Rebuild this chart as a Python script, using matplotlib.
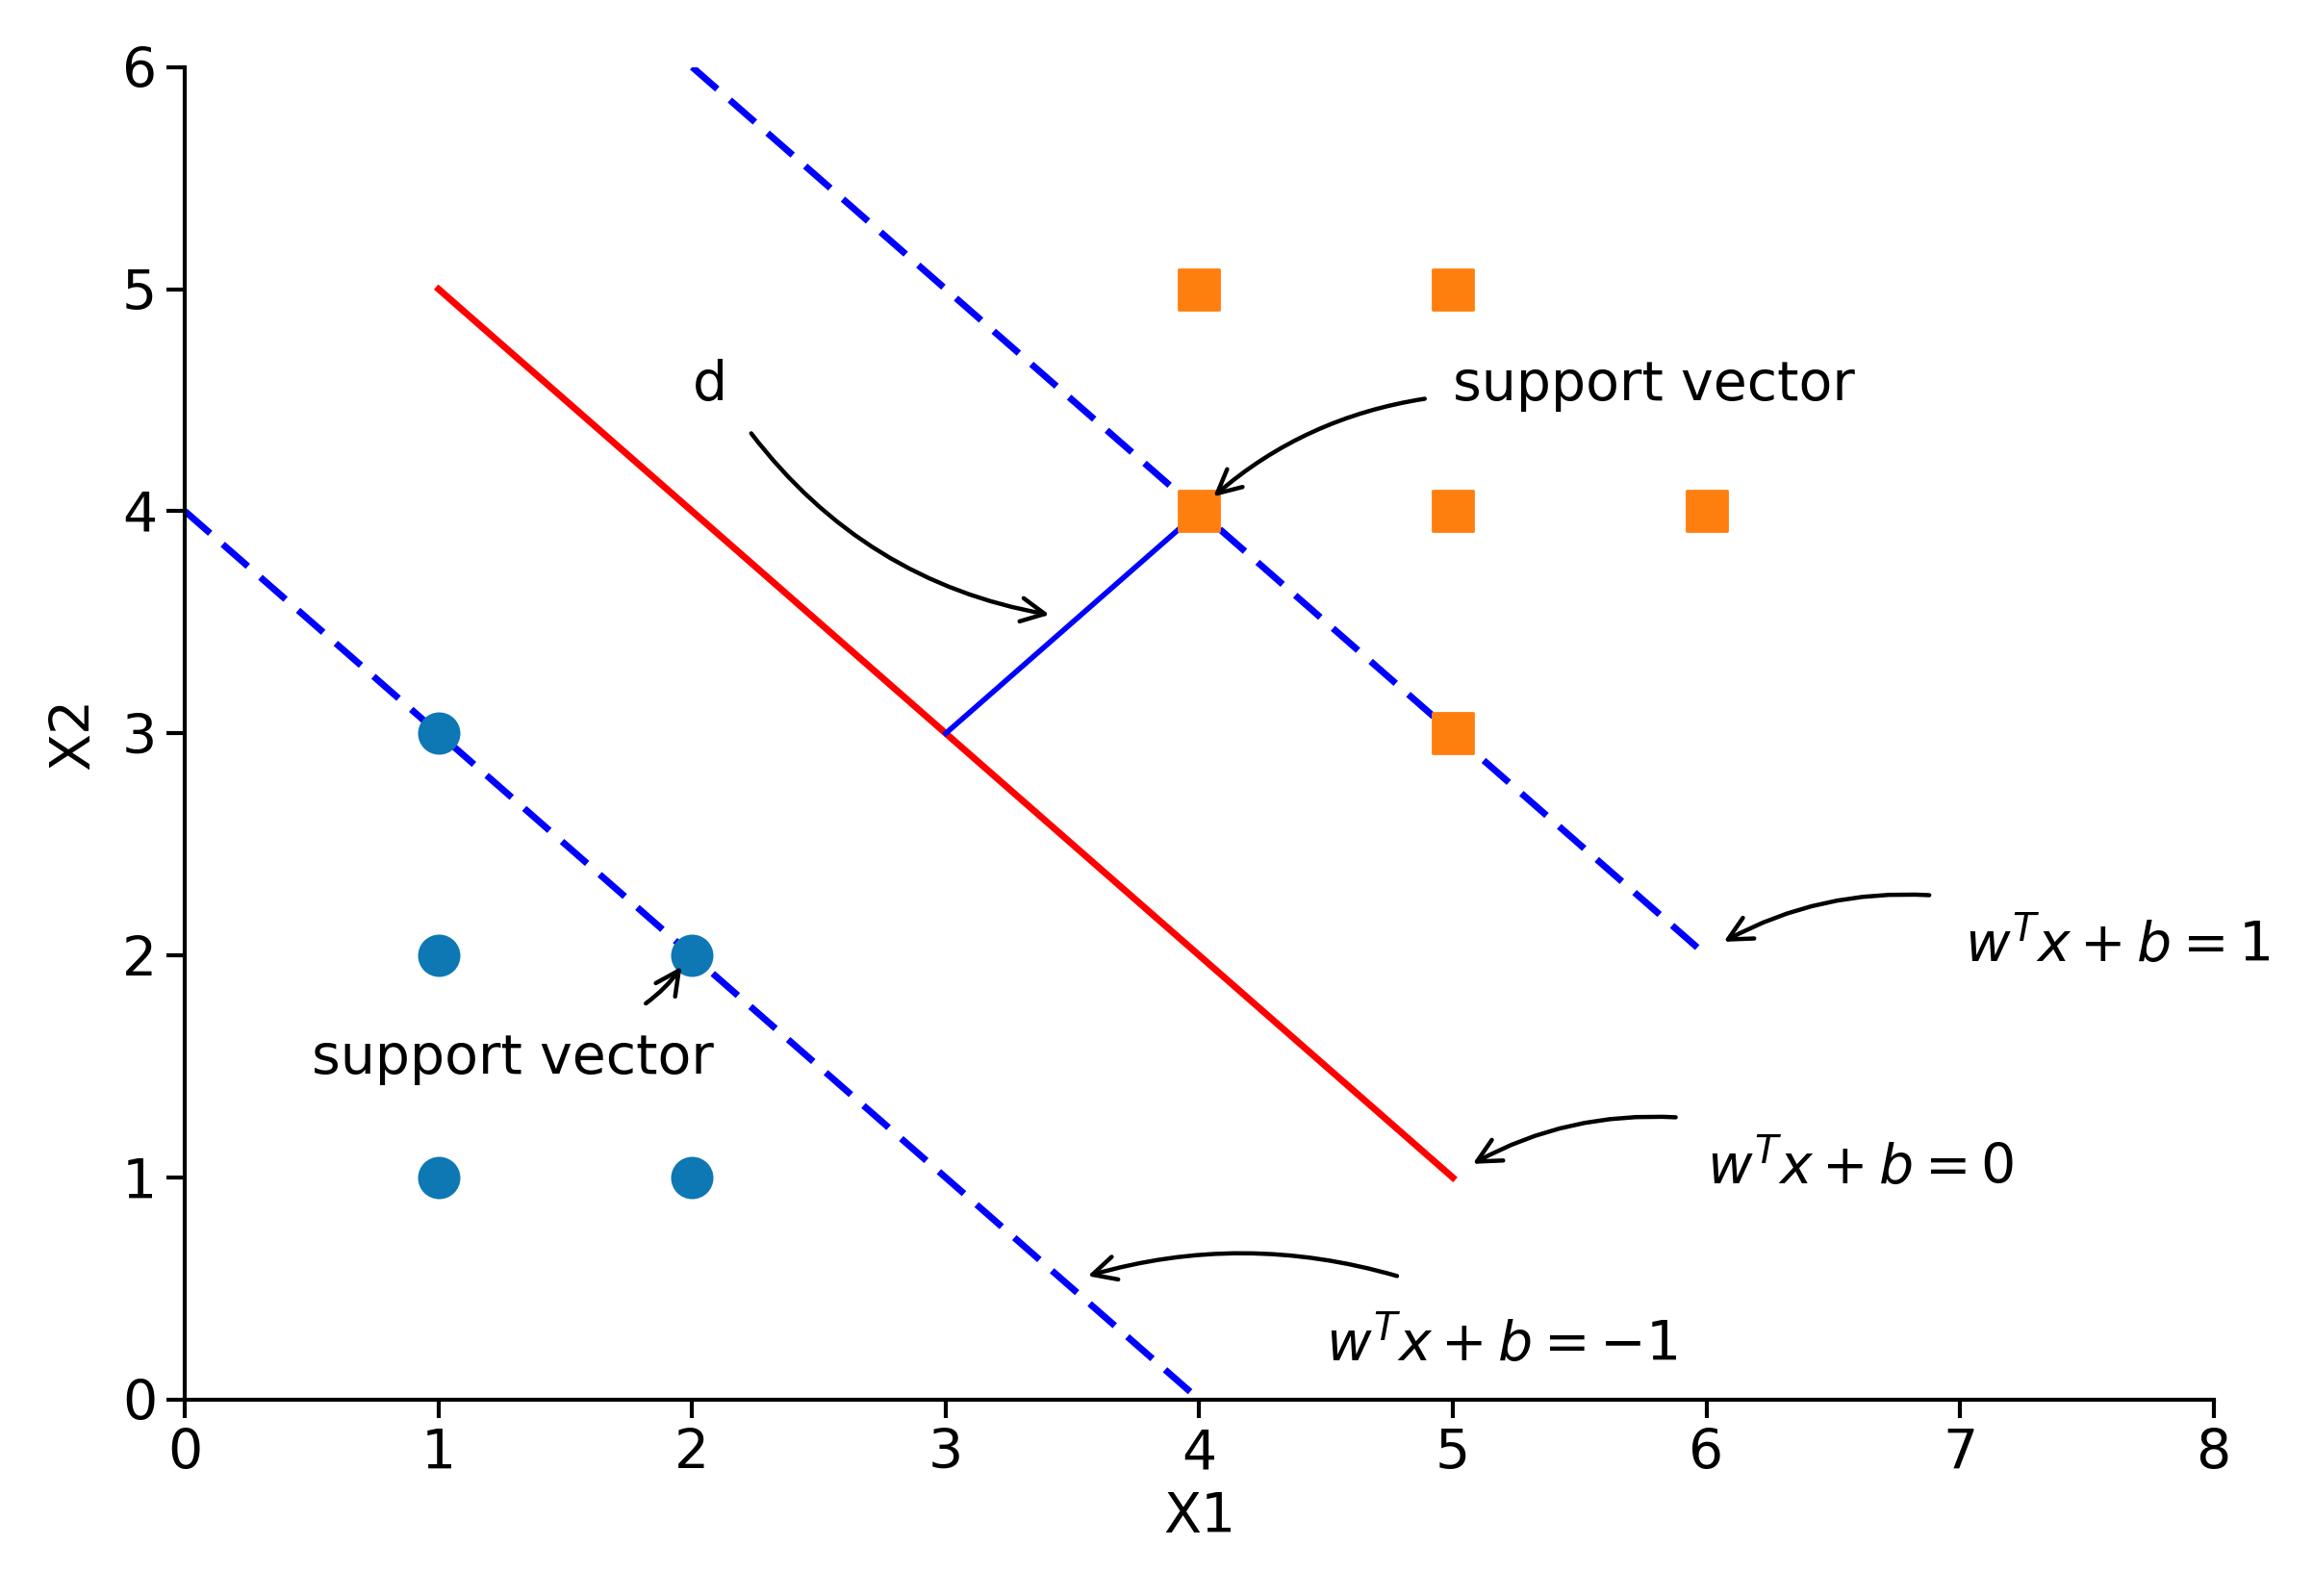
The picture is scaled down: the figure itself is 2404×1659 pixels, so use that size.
import matplotlib
matplotlib.use("Agg")
import matplotlib.pyplot as plt

# data
neg_x = [1, 1, 2, 1, 2]
neg_y = [3, 2, 2, 1, 1]
pos_x = [4, 5, 4, 5, 6, 5]
pos_y = [5, 5, 4, 4, 4, 3]
lower_margin = ([0, 4], [4, 0])
upper_margin = ([2, 6], [6, 2])
hyperplane = ([1, 5], [5, 1])
dist_seg = ([3, 4], [3, 4])

plt.rcParams["font.size"] = 20.5
fig = plt.figure(figsize=(12.02, 8.295), dpi=200)
ax = fig.add_axes([0.08, 0.123, 0.877, 0.835])

ax.plot(*lower_margin, "b--", lw=2.5, dashes=(5, 2.5))
ax.plot(*upper_margin, "b--", lw=2.5, dashes=(5, 2.5))
ax.plot(*hyperplane, color="red", lw=2.5)
ax.plot(*dist_seg, color="blue", lw=2)
ax.scatter(neg_x, neg_y, s=220, color="#0d78b3", zorder=3)
ax.scatter(pos_x, pos_y, s=220, marker="s", color="#ff7f0e", zorder=3)

arrow = dict(arrowstyle="->", color="black", lw=1.6, mutation_scale=22)

def note(txt, txy, start, end, rad, **kw):
    ax.text(*txy, txt, **kw)
    ax.annotate("", xy=end, xytext=start,
                arrowprops=dict(arrow, connectionstyle=f"arc3,rad={rad}"))

note("d", (2.0, 4.5), (2.22, 4.37), (3.43, 3.53), 0.2)
note("support vector", (5.0, 4.5), (4.91, 4.51), (4.04, 4.05), 0.15)
note("support vector", (0.5, 1.47), (1.8, 1.77), (1.97, 1.97), 0.1)
note(r"$w^Tx+b=1$", (7.02, 1.97), (6.9, 2.27), (6.05, 2.05), 0.15)
note(r"$w^Tx+b=0$", (6.0, 0.97), (5.9, 1.27), (5.06, 1.05), 0.15)
note(r"$w^Tx+b=-1$", (4.5, 0.17), (4.8, 0.55), (3.54, 0.55), 0.15)

ax.set_xlim(0, 8)
ax.set_ylim(0, 6)
ax.set_xlabel("X1", labelpad=4)
ax.set_ylabel("X2", labelpad=8)
ax.spines["top"].set_visible(False)
ax.spines["right"].set_visible(False)
ax.tick_params(length=7, width=1.5)
for s in ("left", "bottom"):
    ax.spines[s].set_linewidth(1.5)

fig.savefig("out.png", dpi=200)
